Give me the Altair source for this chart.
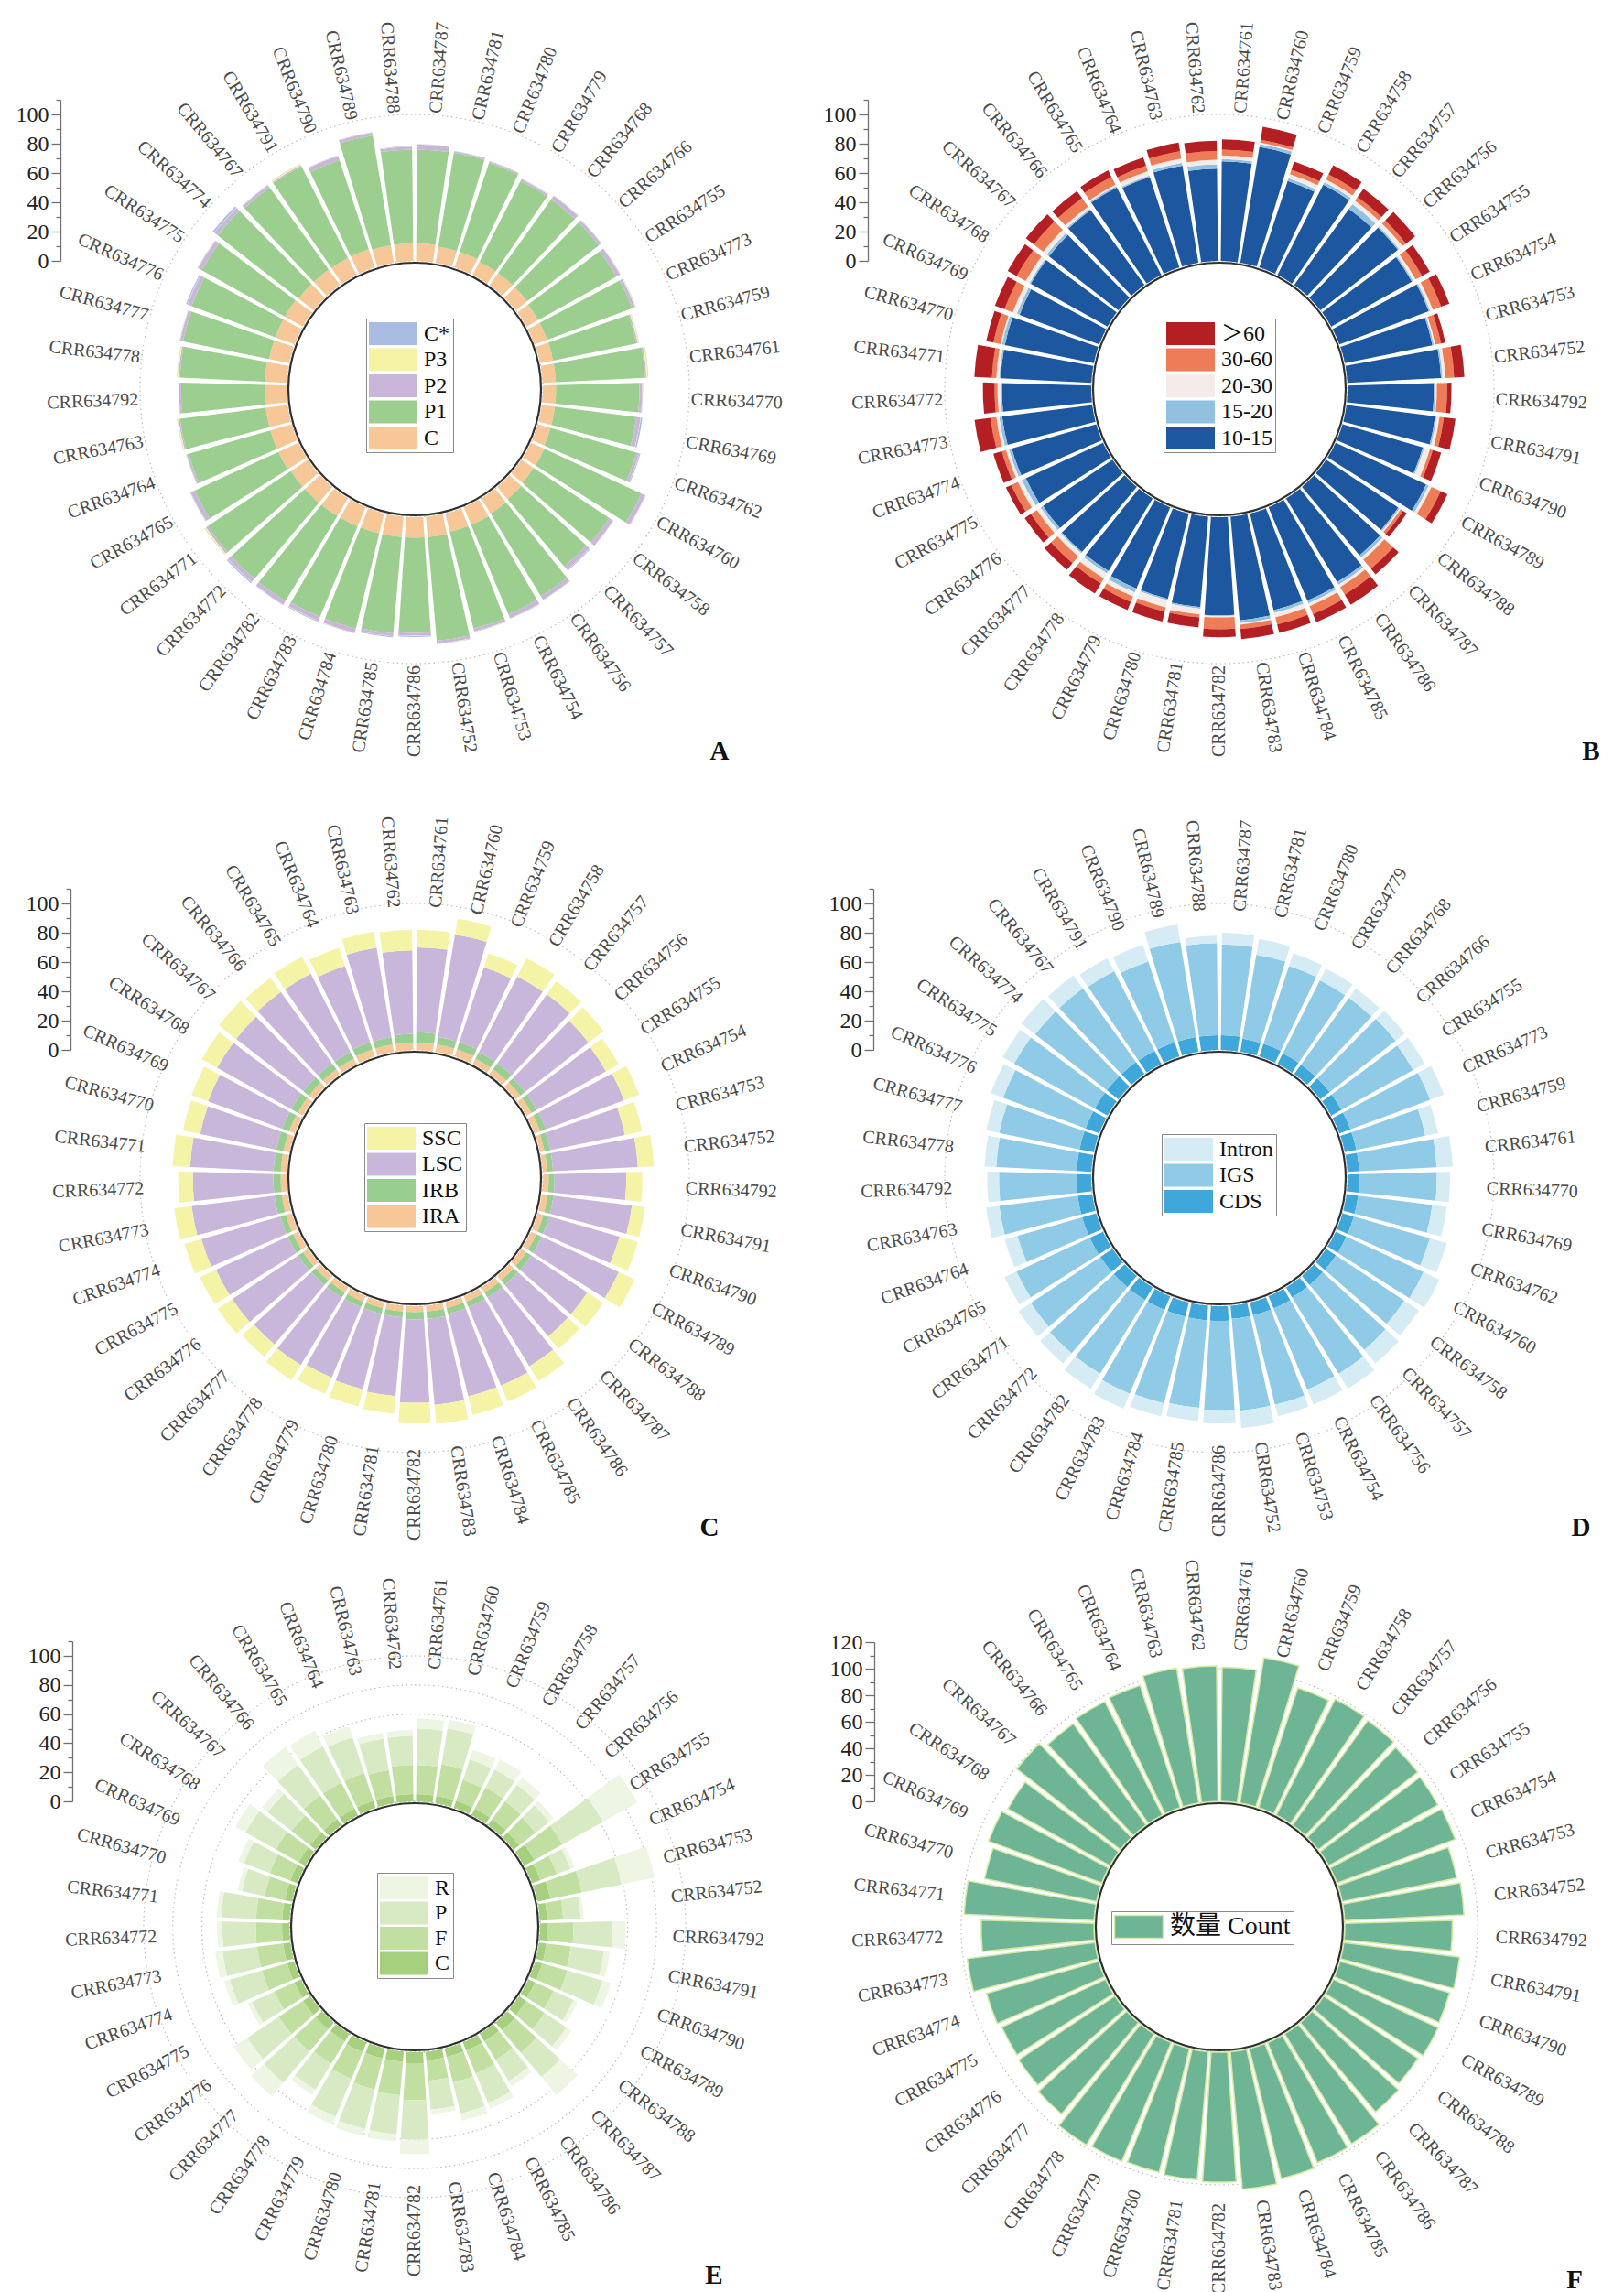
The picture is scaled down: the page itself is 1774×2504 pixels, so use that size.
import math
import altair as alt
import pandas as pd

FONT = "Liberation Serif"
FONT_CJK = "Liberation Serif, Noto Sans CJK SC"
TWO_PI = 2 * math.pi
N = 41

# ---------------- categories (clockwise from 12 o'clock) ----------------
ORDER_AD = ["CRR634" + s for s in [
    "787", "781", "780", "779", "768", "766", "755", "773", "759", "761",
    "770", "769", "762", "760", "758", "757", "756", "754", "753", "752",
    "786", "785", "784", "783", "782", "772", "771", "765", "764", "763",
    "792", "778", "777", "776", "775", "774", "767", "791", "790", "789", "788"]]
ORDER_BCEF = ["CRR634" + s for s in [
    "761", "760", "759", "758", "757", "756", "755", "754", "753", "752",
    "792", "791", "790", "789", "788", "787", "786", "785", "784", "783",
    "782", "781", "780", "779", "778", "777", "776", "775", "774", "773",
    "772", "771", "770", "769", "768", "767", "766", "765", "764", "763", "762"]]

# ---------------- panel A ----------------
A_C = [12, 11, 11, 10, 10, 10, 9, 9, 9, 9, 9, 9, 9, 10, 10, 11, 12, 13, 13, 14,
       14, 14, 14, 14, 14, 14, 14, 15, 15, 15, 15, 15, 14, 14, 14, 13, 13, 13, 13, 12, 12]
A_P1 = [64, 65, 64, 62, 62, 62, 61, 62, 58, 61, 57, 56, 61, 73, 62, 60, 66, 66, 68, 71,
        65, 66, 67, 67, 68, 68, 68, 63, 58, 59, 57, 58, 60, 61, 65, 70, 69, 70, 64, 76, 64]
A_P2 = [3.5, 1, 1, 1.5, 3, 2, 3, 2, 1, 1, 2, 3, 2, 3, 3, 3, 3, 3, 2, 2,
        2, 2, 3, 3, 3, 3, 1.5, 3, 1.5, 1, 1.5, 1, 2, 3, 3, 3, 2, 1, 3, 2, 2]
A_P3 = [0.2, 0.2, 0.2, 0.2, 0.2, 0.2, 0.2, 0.5, 0.8, 1, 0.2, 0.2, 0.2, 0.2, 0.2, 0.2, 0.2, 0.2, 0.2, 0.2,
        0.2, 0.2, 0.2, 0.2, 0.2, 0.2, 1, 0.2, 0.2, 0.8, 0.2, 0.8, 0.2, 0.2, 0.2, 0.2, 0.2, 0.8, 0.2, 0.2, 0.2]
A_CS = [0.2, 0.2, 0.2, 0.2, 0.2, 0.2, 0.2, 0.2, 0.2, 0.2, 0.2, 1, 0.6, 0.2, 0.2, 0.6, 0.2, 0.2, 0.2, 0.2,
        0.6, 0.6, 0.2, 0.6, 0.2, 0.8, 0.2, 0.2, 0.2, 0.2, 0.2, 0.2, 0.2, 0.8, 0.2, 1.2, 0.2, 0.2, 0.2, 0.2, 0.2]

# ---------------- panel B ----------------
B_BLUE = [68, 80, 62, 69, 64, 67, 63, 65, 61, 64, 59, 61, 57, 68, 59, 61, 67, 69, 68, 71,
          67, 62, 60, 60, 58, 58, 57, 58, 60, 62, 61, 62, 62, 58, 60, 60, 63, 67, 65, 67, 63]
B_LB = [1.5, 2, 2, 2, 4, 1, 1, 1, 1, 1, 1, 1, 1, 2, 1, 2, 2, 2, 2, 2,
        0.5, 1, 1, 3, 2, 1, 2, 3, 2, 2, 1, 1, 2, 2, 1, 2, 1, 1, 1, 2, 3]
B_W = [2.5, 1, 3, 2, 3, 3, 2, 2, 1, 2, 1, 2, 4, 2, 1, 2, 2, 2, 3, 1,
       1, 4, 5, 3, 4, 3, 3, 3, 2, 2, 2, 2, 1, 3, 3, 3, 2, 1, 3, 3, 3]
B_O = [4, 2, 3, 4, 3, 3, 5, 6, 4, 6, 7, 3, 2, 7, 2, 8, 6, 6, 5, 3,
       8, 2, 3, 4, 4, 6, 5, 5, 3, 4, 2, 3, 5, 6, 7, 8, 7, 6, 4, 5, 6]
B_R = [7, 9, 6, 7, 7, 8, 6, 6, 3, 7, 3, 8, 6, 5, 3, 5, 8, 6, 6, 7,
       5.5, 7, 7, 6, 8, 6, 5, 4, 6, 11, 8, 12, 5, 7, 7, 7, 6, 5, 6, 6, 7]

# ---------------- panel C ----------------
C_IRA = [5, 5, 5, 4, 4, 4, 4, 4, 3, 3, 4, 4, 4, 4, 4, 4, 4, 4, 4, 4,
         4, 4, 4, 4, 4, 4, 4, 4, 4, 4, 4, 4, 4, 4, 4, 4, 4, 4, 5, 5, 5]
C_IRB = [7, 5, 5, 5, 5, 4, 4, 4, 4, 4, 4, 4, 4, 4, 4, 4, 4, 4, 4, 5,
         5, 4, 4, 4, 4, 4, 4, 4, 4, 5, 5, 5, 5, 5, 5, 5, 5, 5, 5, 5, 6]
C_LSC = [58, 71, 54, 58, 58, 55, 54, 57, 52, 58, 49, 54, 50, 58, 46, 46, 55, 58, 58, 59,
         57, 54, 53, 52, 54, 53, 54, 54, 56, 57, 55, 57, 53, 54, 58, 58, 60, 60, 55, 62, 57]
C_SSC = [12, 11, 10, 14, 11, 13, 10, 11, 12, 11, 11, 9, 13, 12, 13, 11, 12, 12, 13, 13,
         14, 12, 12, 12, 12, 11, 12, 12, 12, 12, 10, 12, 12, 12, 12, 15, 12, 13, 13, 11, 14]

# ---------------- panel D ----------------
D_CDS = [10, 9, 9, 8, 8, 8, 8, 8, 8, 8, 8, 8, 8, 8, 8, 8, 8, 9, 9, 9,
         10, 10, 10, 10, 10, 10, 10, 10, 10, 10, 10, 10, 10, 10, 10, 10, 10, 10, 10, 10, 10]
D_IGS = [62, 58, 56, 56, 56, 57, 56, 58, 48, 53, 53, 51, 54, 58, 56, 58, 61, 60, 63, 63,
         61, 60, 61, 62, 59, 59, 57, 55, 46, 54, 53, 55, 56, 60, 63, 62, 62, 61, 58, 66, 63]
D_INT = [8, 11, 9, 9, 8, 8, 9, 10, 9, 11, 9, 10, 12, 12, 12, 12, 12, 11, 8, 12,
         9, 9, 9, 11, 12, 9, 10, 9, 9, 9, 8, 8, 9, 9, 9, 12, 11, 10, 12, 12, 5]

# ---------------- panel E ----------------
E_C = [5, 5, 5, 5, 5, 5, 8, 6, 9, 5, 5, 5, 5, 5, 6, 7, 6, 6, 6, 6,
       8, 7, 7, 7, 6, 6, 6, 5, 5, 5, 5, 5, 5, 5, 5, 5, 5, 5, 5, 5, 5]
E_F = [20, 22, 15, 16, 15, 14, 22, 12, 22, 11, 18, 17, 18, 14, 15, 20, 15, 17, 18, 14,
       25, 23, 22, 20, 18, 20, 20, 15, 18, 18, 18, 18, 14, 15, 18, 16, 20, 20, 20, 18, 20]
E_P = [25, 25, 15, 14, 14, 12, 32, 10, 28, 12, 27, 23, 25, 15, 18, 22, 17, 22, 22, 20,
       27, 27, 28, 28, 21, 28, 26, 17, 23, 24, 23, 24, 16, 19, 24, 21, 26, 28, 26, 22, 20]
E_R = [7, 6, 7, 8, 6, 4, 27, 3, 23, 2, 9, 4, 6, 3, 4, 16, 4, 4, 5, 3,
       10, 5, 5, 6, 4, 12, 11, 3, 4, 5, 3.5, 3, 3, 4, 8, 5, 15, 12, 8, 4, 4]

# ---------------- panel F ----------------
F_CNT = [101, 111, 95, 98, 97, 95, 94, 95, 88, 90, 81, 88, 86, 87, 85, 88, 97, 98, 101, 104,
         98, 97, 96, 97, 98, 90, 87, 86, 88, 97, 85, 98, 86, 91, 88, 99, 94, 96, 97, 103, 102]


def panel(cats, series, stack_order, legend_order, colors, W, H, r0, k, ymax,
          axis_dx, label_r, letter, letter_d, leg_d, grid_vals,
          stroke=None, leg_font=24, leg_row_pad=2.5):
    rows = []
    for o, name in enumerate(stack_order):
        for i, c in enumerate(cats):
            rows.append({"cat": c, "idx": i, "series": name,
                         "value": series[name][i], "ord": o})
    df = pd.DataFrame(rows)
    cx, cy = W / 2, H / 2
    th = alt.Scale(domain=[0, N], range=[0, TWO_PI])
    rs = alt.Scale(type="linear", domain=[0, 100], range=[r0, r0 + 100 * k])

    leg_kw = dict(orient="none", legendX=cx + leg_d[0], legendY=cy + leg_d[1],
                  title=None, symbolType="M-2,-0.94H2V0.94H-2Z", symbolSize=702,
                  labelFont=FONT_CJK, labelFontSize=leg_font, labelColor="#111",
                  strokeColor="#8a8a8a", padding=3, rowPadding=leg_row_pad,
                  symbolOffset=13, labelOffset=20, fillColor="white",
                  symbolOpacity=1)
    mark_kw = {}
    if stroke:
        leg_kw.update(symbolStrokeColor=stroke, symbolStrokeWidth=1.5)
        mark_kw.update(stroke=stroke, strokeWidth=1.5)
    else:
        leg_kw.update(symbolStrokeWidth=0)

    bars = (
        alt.Chart(df)
        .transform_stack(stack="value", groupby=["cat"], as_=["v0", "v1"],
                         sort=[alt.SortField("ord", order="ascending")])
        .transform_calculate(t0="datum.idx + 0.07", t1="datum.idx + 0.93")
        .mark_arc(**mark_kw)
        .encode(
            theta=alt.Theta("t0:Q", scale=th, stack=False),
            theta2=alt.Theta2("t1:Q"),
            radius=alt.Radius("v0:Q", scale=rs, stack=False),
            radius2=alt.Radius2("v1:Q"),
            color=alt.Color("series:N",
                            scale=alt.Scale(domain=legend_order, range=colors),
                            legend=alt.Legend(**leg_kw)),
        )
    )

    grid = (
        alt.Chart(pd.DataFrame({"g": grid_vals}))
        .mark_arc(filled=False, stroke="#bdbdbd", strokeWidth=1.2,
                  strokeDash=[1.5, 3.5], theta=0, theta2=TWO_PI)
        .encode(radius=alt.Radius("g:Q", scale=rs, stack=False))
    )

    ring = (
        alt.Chart(pd.DataFrame({"a": [0]}))
        .mark_arc(filled=False, stroke="#303030", strokeWidth=2.2,
                  theta=0, theta2=TWO_PI, radius=r0 - 2)
        .encode(opacity=alt.value(1))
    )

    lab = pd.DataFrame({"cat": cats, "idx": list(range(N))})
    base = alt.Chart(lab).transform_calculate(
        tm="datum.idx + 0.5", deg=f"(datum.idx + 0.5) * 360 / {N}")
    txt = dict(baseline="middle", font=FONT, fontSize=20, color="#4a4a4a")
    enc = dict(theta=alt.Theta("tm:Q", scale=th, stack=False),
               radius=alt.value(label_r), text="cat:N",
               angle=alt.Angle("ang:Q", scale=None))
    right = (base.transform_filter("datum.deg < 180")
             .transform_calculate(ang="(datum.deg + 270) % 360")
             .mark_text(align="left", **txt).encode(**enc))
    left = (base.transform_filter("datum.deg >= 180")
            .transform_calculate(ang="(datum.deg + 90) % 360")
            .mark_text(align="right", **txt).encode(**enc))

    axis_layer = (
        alt.Chart(pd.DataFrame({"v": [0, ymax]}))
        .mark_rule(opacity=0)
        .encode(y=alt.Y(
            "v:Q",
            scale=alt.Scale(domain=[0, ymax], range=[cy - r0, cy - r0 - ymax * k]),
            axis=alt.Axis(
                orient="left", offset=-(cx + axis_dx),
                values=list(range(0, ymax + 1, 10)),
                labelExpr="datum.value % 20 === 0 ? datum.label : ''",
                tickSize={"condition": {"test": "datum.value % 20 === 0", "value": 10}, "value": 5},
                grid=False, title=None, domainColor="#707070", tickColor="#707070",
                domainWidth=1.3, tickWidth=1.3, labelFont=FONT, labelFontSize=24,
                labelColor="#222", labelPadding=3, labelOverlap=False, labelFlush=False,
            ),
        ))
    )

    letter_layer = (
        alt.Chart(pd.DataFrame({"t": [letter]}))
        .mark_text(font=FONT, fontSize=29, fontWeight="bold", align="center",
                   baseline="middle", color="#111")
        .encode(text="t:N", x=alt.value(cx + letter_d[0]), y=alt.value(cy + letter_d[1]))
    )

    return alt.layer(grid, bars, ring, right, left, axis_layer, letter_layer).properties(
        width=W, height=H)


W1, W2 = 890, 868
H1, H2, H3 = 834, 890, 746

pA = panel(ORDER_AD, {"C": A_C, "P1": A_P1, "P2": A_P2, "P3": A_P3, "C*": A_CS},
           ["C", "P1", "P2", "P3", "C*"], ["C*", "P3", "P2", "P1", "C"],
           ["#a9bde2", "#f6f3a5", "#c9b6d9", "#9ccf8f", "#f7c798"],
           W1, H1, 140, 1.6, 110, -387, 302, "A", (333, 396), (-53, -77), [100])

pB = panel(ORDER_BCEF, {"10-15": B_BLUE, "15-20": B_LB, "20-30": B_W, "30-60": B_O, "＞60": B_R},
           ["10-15", "15-20", "20-30", "30-60", "＞60"], ["＞60", "30-60", "20-30", "15-20", "10-15"],
           ["#b41f24", "#ee7d57", "#f4ece9", "#92c0e0", "#1c57a0"],
           W2, H1, 140, 1.6, 110, -384, 302, "B", (406, 396), (-61, -77), [100])

pC = panel(ORDER_BCEF, {"IRA": C_IRA, "IRB": C_IRB, "LSC": C_LSC, "SSC": C_SSC},
           ["IRA", "IRB", "LSC", "SSC"], ["SSC", "LSC", "IRB", "IRA"],
           ["#f5f3a5", "#c8b7da", "#98ce8f", "#f7c798"],
           W1, H2, 140, 1.6, 110, -376, 296, "C", (322, 382), (-55, -60), [100])

pD = panel(ORDER_AD, {"CDS": D_CDS, "IGS": D_IGS, "Intron": D_INT},
           ["CDS", "IGS", "Intron"], ["Intron", "IGS", "CDS"],
           ["#d5ecf4", "#8fcbe6", "#3fa7da"],
           W2, H2, 140, 1.6, 110, -378, 292, "D", (395, 382), (-63, -48), [100])

pE = panel(ORDER_BCEF, {"C": E_C, "F": E_F, "P": E_P, "R": E_R},
           ["C", "F", "P", "R"], ["R", "P", "F", "C"],
           ["#eef5e3", "#d7eac4", "#c0dfa0", "#a6d07e"],
           W1, H3, 137, 1.59, 110, -374, 282, "E", (327, 381), (-41, -59), [60, 80, 100],
           leg_row_pad=1.5)

pF = panel(ORDER_BCEF, {"数量 Count": F_CNT},
           ["数量 Count"], ["数量 Count"], ["#6db595"],
           W2, H3, 137, 1.45, 120, -377, 302, "F", (388, 386), (-118, -17), [100],
           stroke="#d6eaa6", leg_font=28)

chart = (
    alt.concat(pA, pB, pC, pD, pE, pF, columns=2, spacing=0, bounds="flush")
    .resolve_scale(color="independent", theta="independent",
                   radius="independent", y="independent")
    .resolve_legend(color="independent")
    .configure_view(strokeWidth=0)
    .properties(padding=0)
)

chart.save("out.html", embed_options={"renderer": "svg", "actions": False})
